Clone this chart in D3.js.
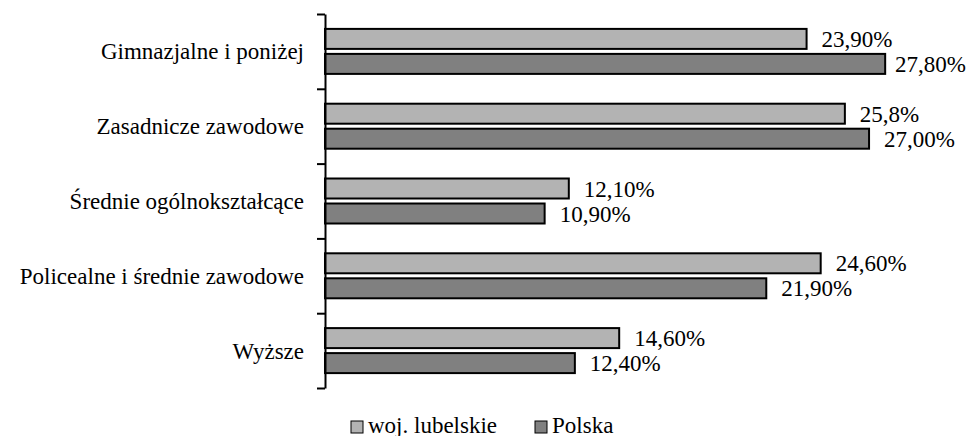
<!DOCTYPE html>
<html>
<head>
<meta charset="utf-8">
<script src="https://cdn.jsdelivr.net/npm/d3@7"></script>
<style>
  body { margin: 0; background: #fff; }
  .axis path, .axis line { stroke: #000; stroke-width: 2; }
</style>
</head>
<body>
<div id="chart"></div>
<script>
// categories top to bottom
var categories = ["Gimnazjalne i poniżej", "Zasadnicze zawodowe", "Średnie ogólnokształcące",
                  "Policealne i średnie zawodowe", "Wyższe"];
var seriesNames = ["woj. lubelskie", "Polska"];
var lubelskie = [23.9, 25.8, 12.1, 24.6, 14.6];
var polska = [27.8, 27.0, 10.9, 21.9, 12.4];
var lubelskieLabels = ["23,90%", "25,8%", "12,10%", "24,60%", "14,60%"];
var polskaLabels = ["27,80%", "27,00%", "10,90%", "21,90%", "12,40%"];
var colors = ["#b3b3b3", "#808080"];

var W = 967, H = 436;
var plotLeft = 325, plotTop = 14, plotBottom = 388;
var FONT = "'Liberation Serif', 'Times New Roman', serif";

var svg = d3.select("#chart").append("svg")
    .attr("width", W)
    .attr("height", H)
    .attr("font-family", FONT);

var xScale = d3.scaleLinear().domain([0, 30]).range([plotLeft, plotLeft + 604.5]);

var yBand = d3.scaleBand().domain(categories).range([plotTop, plotBottom]).padding(0);
var groupH = 45;
var yInner = d3.scaleBand().domain(seriesNames).range([0, groupH]).paddingInner(0.2);

var rows = categories.map(function(c, i) {
    return {cat: c, values: [
        {s: seriesNames[0], v: lubelskie[i], label: lubelskieLabels[i], color: colors[0]},
        {s: seriesNames[1], v: polska[i], label: polskaLabels[i], color: colors[1]}
    ]};
});

var groups = svg.selectAll("g.row")
    .data(rows)
  .enter().append("g")
    .attr("class", "row")
    .attr("transform", function(d) {
        return "translate(0," + (yBand(d.cat) + (yBand.bandwidth() - groupH) / 2) + ")";
    });

groups.selectAll("rect")
    .data(function(d) { return d.values; })
  .enter().append("rect")
    .attr("x", xScale(0))
    .attr("y", function(d) { return yInner(d.s); })
    .attr("width", function(d) { return xScale(d.v) - xScale(0); })
    .attr("height", yInner.bandwidth())
    .style("fill", function(d) { return d.color; })
    .style("stroke", "#000")
    .style("stroke-width", 2);

// value labels, pushed back inside if they would run off the right edge
groups.selectAll("text.val")
    .data(function(d) { return d.values; })
  .enter().append("text")
    .attr("class", "val")
    .attr("y", function(d) { return yInner(d.s) + yInner.bandwidth() / 2; })
    .attr("dy", "0.35em")
    .attr("font-size", 23)
    .text(function(d) { return d.label; })
    .attr("x", function(d) {
        var w = this.getComputedTextLength();
        return Math.min(xScale(d.v) + 15, W - w - 1);
    });

// category labels
svg.selectAll("text.cat")
    .data(categories)
  .enter().append("text")
    .attr("class", "cat")
    .attr("x", plotLeft - 21)
    .attr("y", function(d) { return yBand(d) + yBand.bandwidth() / 2; })
    .attr("dy", "0.35em")
    .attr("text-anchor", "end")
    .attr("font-size", 23)
    .text(function(d) { return d; });

// axis with ticks at band boundaries
var yIdx = d3.scaleLinear().domain([0, categories.length]).range([plotTop, plotBottom]);
svg.append("g")
    .attr("class", "axis")
    .attr("transform", "translate(" + plotLeft + ",0)")
    .call(d3.axisLeft(yIdx)
        .tickValues(d3.range(categories.length + 1))
        .tickSize(8)
        .tickSizeOuter(0)
        .tickFormat(""));

// legend
var legendX = [351, 535];
var legend = svg.selectAll("g.legend")
    .data(seriesNames)
  .enter().append("g")
    .attr("class", "legend")
    .attr("transform", function(d, i) { return "translate(" + legendX[i] + ",421)"; });

legend.append("rect")
    .attr("width", 12)
    .attr("height", 12)
    .style("fill", function(d, i) { return colors[i]; })
    .style("stroke", "#000")
    .style("stroke-width", 1);

legend.append("text")
    .attr("x", 17)
    .attr("y", 12)
    .attr("font-size", 23)
    .text(function(d) { return d; });
</script>
</body>
</html>
